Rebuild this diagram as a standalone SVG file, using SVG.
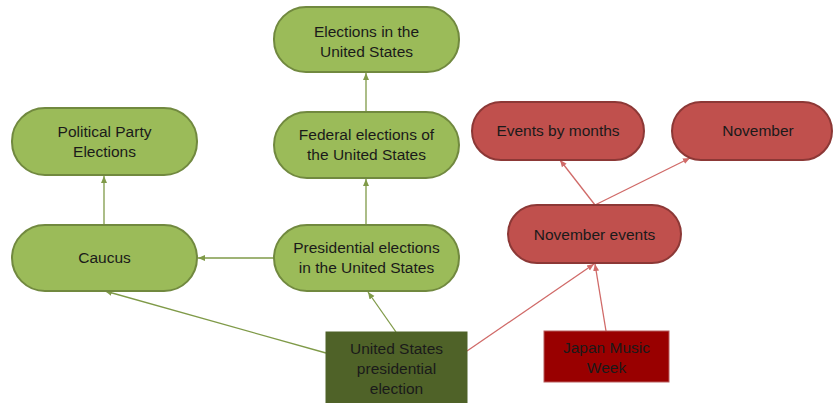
<svg xmlns="http://www.w3.org/2000/svg" width="833" height="403" viewBox="0 0 833 403">
<style>
.g{fill:#9bbb59;stroke:#71893f;stroke-width:2}
.r{fill:#c0504d;stroke:#8c3836;stroke-width:2}
.dg{fill:#4f6228;stroke:#4f6228}
.jm{fill:#990000;stroke:#b85c5c;stroke-width:1}
text{font-family:"Liberation Sans",Arial,sans-serif;font-size:15.5px;fill:#1a1a1a;text-anchor:middle}
.eg{stroke:#7f9a48;stroke-width:1.3;fill:none;marker-end:url(#ag)}
.er{stroke:#d06a68;stroke-width:1.3;fill:none;marker-end:url(#ar)}
</style>
<defs>
<marker id="ag" markerWidth="8" markerHeight="8" refX="7" refY="4" orient="auto" markerUnits="userSpaceOnUse"><path d="M0,1 L7,4 L0,7 Z" fill="#7f9a48"/></marker>
<marker id="ar" markerWidth="8" markerHeight="8" refX="7" refY="4" orient="auto" markerUnits="userSpaceOnUse"><path d="M0,1 L7,4 L0,7 Z" fill="#d06a68"/></marker>
</defs>
<rect width="833" height="403" fill="#ffffff"/>
<g id="edges">
<line class="eg" x1="366" y1="112" x2="366" y2="73"/>
<line class="eg" x1="366" y1="225" x2="366" y2="179"/>
<line class="eg" x1="104" y1="225" x2="104" y2="176"/>
<line class="eg" x1="274" y1="258" x2="198" y2="258"/>
<line class="eg" x1="326" y1="353" x2="105" y2="291"/>
<line class="eg" x1="396" y1="332" x2="368" y2="292"/>
<line class="er" x1="467" y1="351" x2="594" y2="264"/>
<line class="er" x1="606" y1="331" x2="595" y2="264"/>
<line class="er" x1="595" y1="205" x2="560" y2="160"/>
<line class="er" x1="595" y1="205" x2="690" y2="158"/>
</g>
<g id="elections-us"><rect class="g" x="274" y="7" width="185" height="65" rx="32"/><text x="366.5" y="37">Elections in the</text><text x="366.5" y="57">United States</text></g>
<g id="federal"><rect class="g" x="274" y="112" width="185" height="66" rx="33"/><text x="366.5" y="140">Federal elections of</text><text x="366.5" y="160">the United States</text></g>
<g id="political-party"><rect class="g" x="12" y="108" width="185" height="67" rx="33"/><text x="104.5" y="137">Political Party</text><text x="104.5" y="157">Elections</text></g>
<g id="caucus"><rect class="g" x="12" y="225" width="185" height="66" rx="33"/><text x="104.5" y="263">Caucus</text></g>
<g id="presidential"><rect class="g" x="274" y="225" width="185" height="66" rx="33"/><text x="366.5" y="253">Presidential elections</text><text x="366.5" y="273">in the United States</text></g>
<g id="events-by-months"><rect class="r" x="472" y="102" width="172" height="58" rx="29"/><text x="558" y="136">Events by months</text></g>
<g id="november"><rect class="r" x="672" y="102" width="160" height="58" rx="29"/><text x="758" y="136">November</text></g>
<g id="november-events"><rect class="r" x="508" y="205" width="173" height="58" rx="29"/><text x="594.5" y="240">November events</text></g>
<g id="us-presidential-election"><rect class="dg" x="326" y="332" width="141" height="75"/><text x="396.5" y="354">United States</text><text x="396.5" y="374">presidential</text><text x="396.5" y="394">election</text></g>
<g id="japan-music-week"><rect class="jm" x="544" y="331" width="125" height="51"/><text x="606.5" y="353">Japan Music</text><text x="606.5" y="373">Week</text></g>
</svg>
